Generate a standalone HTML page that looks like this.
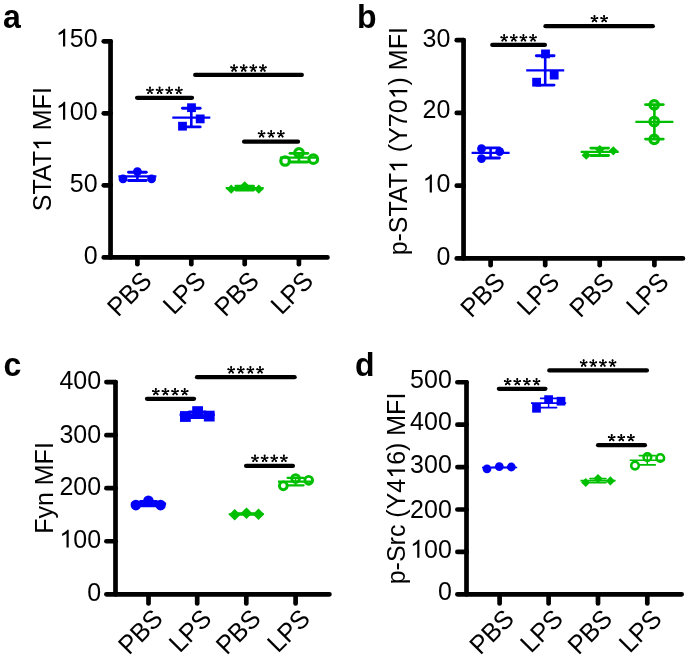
<!DOCTYPE html>
<html><head><meta charset="utf-8"><style>
html,body{margin:0;padding:0;background:#fff;}
svg{display:block;will-change:transform;}
text{font-family:"Liberation Sans",sans-serif;fill:#000;}
</style></head><body>
<svg width="689" height="658" viewBox="0 0 689 658">
<defs><g id="ast"><path d="M0,0 L0,-3.1 M0,0 L2.95,-0.96 M0,0 L-2.95,-0.96 M0,0 L1.82,2.51 M0,0 L-1.82,2.51" stroke="#000" stroke-width="1.45" stroke-linecap="round" fill="none"/><circle cx="0" cy="-3.0" r="1.0"/><circle cx="2.85" cy="-0.93" r="1.0"/><circle cx="-2.85" cy="-0.93" r="1.0"/><circle cx="1.76" cy="2.43" r="1.0"/><circle cx="-1.76" cy="2.43" r="1.0"/></g></defs>
<rect width="689" height="658" fill="#fff"/>
<text transform="translate(3,27.7) scale(1,1.04)" font-size="32" font-weight="bold">a</text>
<g transform="translate(51.1,149.2) rotate(-90) scale(1,1.04)"><text text-anchor="middle" font-size="25.0">STAT&#8199; MFI</text><path transform="translate(-1.869,0) scale(0.012207,-0.012207)" d="M763,0 L583,0 L583,1100 Q465,995 223,912 L223,1078 Q420,1165 560,1300 Q620,1365 646,1409 L763,1409 Z"/></g>
<path d="M110.55,41.3 L110.55,257.4 L327.45,257.4" fill="none" stroke="#000" stroke-width="4.7" stroke-linecap="round" stroke-linejoin="round"/>
<line x1="103.75" y1="257.4" x2="110.55" y2="257.4" stroke="#000" stroke-width="4.7" stroke-linecap="round"/>
<text transform="translate(97.6,263.7) scale(1,1.04)" text-anchor="end" font-size="25.0">0</text>
<line x1="103.75" y1="185.37" x2="110.55" y2="185.37" stroke="#000" stroke-width="4.7" stroke-linecap="round"/>
<text transform="translate(97.6,191.67) scale(1,1.04)" text-anchor="end" font-size="25.0">50</text>
<line x1="103.75" y1="113.33" x2="110.55" y2="113.33" stroke="#000" stroke-width="4.7" stroke-linecap="round"/>
<g transform="translate(97.6,119.63) scale(1,1.04)"><text text-anchor="end" font-size="25.0">&#8199;00</text><path transform="translate(-41.705,0) scale(0.012207,-0.012207)" d="M763,0 L583,0 L583,1100 Q465,995 223,912 L223,1078 Q420,1165 560,1300 Q620,1365 646,1409 L763,1409 Z"/></g>
<line x1="103.75" y1="41.3" x2="110.55" y2="41.3" stroke="#000" stroke-width="4.7" stroke-linecap="round"/>
<g transform="translate(97.6,46.6) scale(1,1.04)"><text text-anchor="end" font-size="25.0">&#8199;50</text><path transform="translate(-41.705,0) scale(0.012207,-0.012207)" d="M763,0 L583,0 L583,1100 Q465,995 223,912 L223,1078 Q420,1165 560,1300 Q620,1365 646,1409 L763,1409 Z"/></g>
<line x1="137.4" y1="257.4" x2="137.4" y2="264.2" stroke="#000" stroke-width="4.7" stroke-linecap="round"/>
<text transform="translate(153.3,282.4) rotate(-45) scale(1,1.04)" text-anchor="end" font-size="25.0">PBS</text>
<line x1="191.3" y1="257.4" x2="191.3" y2="264.2" stroke="#000" stroke-width="4.7" stroke-linecap="round"/>
<text transform="translate(207.2,282.4) rotate(-45) scale(1,1.04)" text-anchor="end" font-size="25.0">LPS</text>
<line x1="244.7" y1="257.4" x2="244.7" y2="264.2" stroke="#000" stroke-width="4.7" stroke-linecap="round"/>
<text transform="translate(260.6,282.4) rotate(-45) scale(1,1.04)" text-anchor="end" font-size="25.0">PBS</text>
<line x1="298.9" y1="257.4" x2="298.9" y2="264.2" stroke="#000" stroke-width="4.7" stroke-linecap="round"/>
<text transform="translate(314.8,282.4) rotate(-45) scale(1,1.04)" text-anchor="end" font-size="25.0">LPS</text>
<line x1="137.4" y1="172.24" x2="137.4" y2="180.56" stroke="#0000F8" stroke-width="2.6"/>
<line x1="128.55" y1="172.24" x2="146.25" y2="172.24" stroke="#0000F8" stroke-width="2.9" stroke-linecap="round"/>
<line x1="128.55" y1="180.56" x2="146.25" y2="180.56" stroke="#0000F8" stroke-width="2.9" stroke-linecap="round"/>
<line x1="118.4" y1="176.4" x2="156.4" y2="176.4" stroke="#0000F8" stroke-width="2.2"/>
<circle cx="123" cy="178.8" r="4.4" fill="#0000F8"/>
<circle cx="137.4" cy="171.6" r="4.4" fill="#0000F8"/>
<circle cx="151.6" cy="178.8" r="4.4" fill="#0000F8"/>
<line x1="191.3" y1="108.28" x2="191.3" y2="126.92" stroke="#0000F8" stroke-width="2.6"/>
<line x1="182.45" y1="108.28" x2="200.15" y2="108.28" stroke="#0000F8" stroke-width="2.9" stroke-linecap="round"/>
<line x1="182.45" y1="126.92" x2="200.15" y2="126.92" stroke="#0000F8" stroke-width="2.9" stroke-linecap="round"/>
<line x1="172.3" y1="117.6" x2="210.3" y2="117.6" stroke="#0000F8" stroke-width="2.2"/>
<rect x="178.1" y="121.8" width="8.8" height="8.8" fill="#0000F8"/>
<rect x="187.1" y="103.3" width="8.8" height="8.8" fill="#0000F8"/>
<rect x="195.8" y="114.5" width="8.8" height="8.8" fill="#0000F8"/>
<line x1="244.7" y1="186.1" x2="244.7" y2="190.03" stroke="#00BF00" stroke-width="2.6"/>
<line x1="235.85" y1="186.1" x2="253.55" y2="186.1" stroke="#00BF00" stroke-width="2.9" stroke-linecap="round"/>
<line x1="235.85" y1="190.03" x2="253.55" y2="190.03" stroke="#00BF00" stroke-width="2.9" stroke-linecap="round"/>
<line x1="225.7" y1="188.07" x2="263.7" y2="188.07" stroke="#00BF00" stroke-width="2.2"/>
<path d="M231.2,184.62 L235.78,189.2 L231.2,193.78 L226.62,189.2 Z" fill="#00BF00"/>
<path d="M244.7,181.22 L249.28,185.8 L244.7,190.38 L240.12,185.8 Z" fill="#00BF00"/>
<path d="M258.8,184.62 L263.38,189.2 L258.8,193.78 L254.22,189.2 Z" fill="#00BF00"/>
<line x1="298.9" y1="153.36" x2="298.9" y2="161.98" stroke="#00BF00" stroke-width="2.6"/>
<line x1="290.05" y1="153.36" x2="307.75" y2="153.36" stroke="#00BF00" stroke-width="2.9" stroke-linecap="round"/>
<line x1="290.05" y1="161.98" x2="307.75" y2="161.98" stroke="#00BF00" stroke-width="2.9" stroke-linecap="round"/>
<line x1="279.9" y1="157.67" x2="317.9" y2="157.67" stroke="#00BF00" stroke-width="2.2"/>
<circle cx="285.1" cy="161" r="4.27" fill="none" stroke="#00BF00" stroke-width="3.2"/>
<circle cx="299" cy="152.8" r="4.27" fill="none" stroke="#00BF00" stroke-width="3.2"/>
<circle cx="313.3" cy="159.2" r="4.27" fill="none" stroke="#00BF00" stroke-width="3.2"/>
<line x1="137.1" y1="97.85" x2="192" y2="97.85" stroke="#000" stroke-width="4.3" stroke-linecap="round"/>
<use href="#ast" x="149.96" y="90.6"/>
<use href="#ast" x="159.59" y="90.6"/>
<use href="#ast" x="169.22" y="90.6"/>
<use href="#ast" x="178.84" y="90.6"/>
<line x1="195.2" y1="74.9" x2="301.8" y2="74.9" stroke="#000" stroke-width="4.3" stroke-linecap="round"/>
<use href="#ast" x="234.06" y="68.2"/>
<use href="#ast" x="243.69" y="68.2"/>
<use href="#ast" x="253.31" y="68.2"/>
<use href="#ast" x="262.94" y="68.2"/>
<line x1="244.1" y1="141.7" x2="298" y2="141.7" stroke="#000" stroke-width="4.3" stroke-linecap="round"/>
<use href="#ast" x="261.57" y="134.1"/>
<use href="#ast" x="271.2" y="134.1"/>
<use href="#ast" x="280.83" y="134.1"/>
<text transform="translate(357,27.5) scale(1,1.04)" font-size="32" font-weight="bold">b</text>
<g transform="translate(407.3,141.25) rotate(-90) scale(1,1.04)"><text text-anchor="middle" font-size="25.0">p-STAT&#8199; (Y70&#8199;) MFI</text><path transform="translate(-31.742,0) scale(0.012207,-0.012207)" d="M763,0 L583,0 L583,1100 Q465,995 223,912 L223,1078 Q420,1165 560,1300 Q620,1365 646,1409 L763,1409 Z"/><path transform="translate(41.911,0) scale(0.012207,-0.012207)" d="M763,0 L583,0 L583,1100 Q465,995 223,912 L223,1078 Q420,1165 560,1300 Q620,1365 646,1409 L763,1409 Z"/></g>
<path d="M463.55,40.15 L463.55,258.4 L682.95,258.4" fill="none" stroke="#000" stroke-width="4.7" stroke-linecap="round" stroke-linejoin="round"/>
<line x1="456.75" y1="258.4" x2="463.55" y2="258.4" stroke="#000" stroke-width="4.7" stroke-linecap="round"/>
<text transform="translate(450.4,265.2) scale(1,1.04)" text-anchor="end" font-size="25.0">0</text>
<line x1="456.75" y1="185.65" x2="463.55" y2="185.65" stroke="#000" stroke-width="4.7" stroke-linecap="round"/>
<g transform="translate(450.4,192.45) scale(1,1.04)"><text text-anchor="end" font-size="25.0">&#8199;0</text><path transform="translate(-27.813,0) scale(0.012207,-0.012207)" d="M763,0 L583,0 L583,1100 Q465,995 223,912 L223,1078 Q420,1165 560,1300 Q620,1365 646,1409 L763,1409 Z"/></g>
<line x1="456.75" y1="112.9" x2="463.55" y2="112.9" stroke="#000" stroke-width="4.7" stroke-linecap="round"/>
<text transform="translate(450.4,118.4) scale(1,1.04)" text-anchor="end" font-size="25.0">20</text>
<line x1="456.75" y1="40.15" x2="463.55" y2="40.15" stroke="#000" stroke-width="4.7" stroke-linecap="round"/>
<text transform="translate(450.4,46.95) scale(1,1.04)" text-anchor="end" font-size="25.0">30</text>
<line x1="490.6" y1="258.4" x2="490.6" y2="265.2" stroke="#000" stroke-width="4.7" stroke-linecap="round"/>
<text transform="translate(506.5,283.4) rotate(-45) scale(1,1.04)" text-anchor="end" font-size="25.0">PBS</text>
<line x1="545.2" y1="258.4" x2="545.2" y2="265.2" stroke="#000" stroke-width="4.7" stroke-linecap="round"/>
<text transform="translate(561.1,283.4) rotate(-45) scale(1,1.04)" text-anchor="end" font-size="25.0">LPS</text>
<line x1="599.7" y1="258.4" x2="599.7" y2="265.2" stroke="#000" stroke-width="4.7" stroke-linecap="round"/>
<text transform="translate(615.6,283.4) rotate(-45) scale(1,1.04)" text-anchor="end" font-size="25.0">PBS</text>
<line x1="654.4" y1="258.4" x2="654.4" y2="265.2" stroke="#000" stroke-width="4.7" stroke-linecap="round"/>
<text transform="translate(670.3,283.4) rotate(-45) scale(1,1.04)" text-anchor="end" font-size="25.0">LPS</text>
<line x1="490.6" y1="147.88" x2="490.6" y2="158.06" stroke="#0000F8" stroke-width="2.6"/>
<line x1="481.75" y1="147.88" x2="499.45" y2="147.88" stroke="#0000F8" stroke-width="2.9" stroke-linecap="round"/>
<line x1="481.75" y1="158.06" x2="499.45" y2="158.06" stroke="#0000F8" stroke-width="2.9" stroke-linecap="round"/>
<line x1="471.6" y1="152.97" x2="509.6" y2="152.97" stroke="#0000F8" stroke-width="2.2"/>
<circle cx="481.5" cy="148.7" r="4.4" fill="#0000F8"/>
<circle cx="481.5" cy="158.6" r="4.4" fill="#0000F8"/>
<circle cx="499.7" cy="151.6" r="4.4" fill="#0000F8"/>
<line x1="545.2" y1="55.68" x2="545.2" y2="85.12" stroke="#0000F8" stroke-width="2.6"/>
<line x1="536.35" y1="55.68" x2="554.05" y2="55.68" stroke="#0000F8" stroke-width="2.9" stroke-linecap="round"/>
<line x1="536.35" y1="85.12" x2="554.05" y2="85.12" stroke="#0000F8" stroke-width="2.9" stroke-linecap="round"/>
<line x1="526.2" y1="70.4" x2="564.2" y2="70.4" stroke="#0000F8" stroke-width="2.2"/>
<rect x="532.2" y="77.8" width="8.8" height="8.8" fill="#0000F8"/>
<rect x="541.1" y="49.5" width="8.8" height="8.8" fill="#0000F8"/>
<rect x="549.8" y="70.7" width="8.8" height="8.8" fill="#0000F8"/>
<line x1="599.7" y1="148.1" x2="599.7" y2="155.5" stroke="#00BF00" stroke-width="2.6"/>
<line x1="590.85" y1="148.1" x2="608.55" y2="148.1" stroke="#00BF00" stroke-width="2.9" stroke-linecap="round"/>
<line x1="590.85" y1="155.5" x2="608.55" y2="155.5" stroke="#00BF00" stroke-width="2.9" stroke-linecap="round"/>
<line x1="580.7" y1="151.8" x2="618.7" y2="151.8" stroke="#00BF00" stroke-width="2.2"/>
<path d="M586.2,150.62 L590.78,155.2 L586.2,159.78 L581.62,155.2 Z" fill="#00BF00"/>
<path d="M599.8,144.92 L604.38,149.5 L599.8,154.08 L595.22,149.5 Z" fill="#00BF00"/>
<path d="M613.3,146.22 L617.88,150.8 L613.3,155.38 L608.72,150.8 Z" fill="#00BF00"/>
<line x1="654.4" y1="104.61" x2="654.4" y2="139.12" stroke="#00BF00" stroke-width="2.6"/>
<line x1="645.55" y1="104.61" x2="663.25" y2="104.61" stroke="#00BF00" stroke-width="2.9" stroke-linecap="round"/>
<line x1="645.55" y1="139.12" x2="663.25" y2="139.12" stroke="#00BF00" stroke-width="2.9" stroke-linecap="round"/>
<line x1="635.4" y1="121.87" x2="673.4" y2="121.87" stroke="#00BF00" stroke-width="2.2"/>
<circle cx="654.2" cy="104.8" r="4.27" fill="none" stroke="#00BF00" stroke-width="3.2"/>
<circle cx="654.2" cy="121.5" r="4.27" fill="none" stroke="#00BF00" stroke-width="3.2"/>
<circle cx="654.2" cy="139.3" r="4.27" fill="none" stroke="#00BF00" stroke-width="3.2"/>
<line x1="492.3" y1="44.9" x2="544.9" y2="44.9" stroke="#000" stroke-width="4.3" stroke-linecap="round"/>
<use href="#ast" x="504.16" y="38.1"/>
<use href="#ast" x="513.78" y="38.1"/>
<use href="#ast" x="523.42" y="38.1"/>
<use href="#ast" x="533.05" y="38.1"/>
<line x1="545.5" y1="26.15" x2="652.8" y2="26.15" stroke="#000" stroke-width="4.3" stroke-linecap="round"/>
<use href="#ast" x="594.48" y="18.9"/>
<use href="#ast" x="604.12" y="18.9"/>
<text transform="translate(3.5,375.8) scale(1,1.04)" font-size="32" font-weight="bold">c</text>
<text transform="translate(53.3,488) rotate(-90) scale(1,1.04)" text-anchor="middle" font-size="25.0">Fyn MFI</text>
<path d="M115.5,382.1 L115.5,594.3 L329.45,594.3" fill="none" stroke="#000" stroke-width="4.7" stroke-linecap="round" stroke-linejoin="round"/>
<line x1="106.4" y1="594.3" x2="115.5" y2="594.3" stroke="#000" stroke-width="4.7" stroke-linecap="round"/>
<text transform="translate(101.1,600.6) scale(1,1.04)" text-anchor="end" font-size="25.0">0</text>
<line x1="106.4" y1="541.25" x2="115.5" y2="541.25" stroke="#000" stroke-width="4.7" stroke-linecap="round"/>
<g transform="translate(101.1,547.55) scale(1,1.04)"><text text-anchor="end" font-size="25.0">&#8199;00</text><path transform="translate(-41.705,0) scale(0.012207,-0.012207)" d="M763,0 L583,0 L583,1100 Q465,995 223,912 L223,1078 Q420,1165 560,1300 Q620,1365 646,1409 L763,1409 Z"/></g>
<line x1="106.4" y1="488.2" x2="115.5" y2="488.2" stroke="#000" stroke-width="4.7" stroke-linecap="round"/>
<text transform="translate(101.1,494.5) scale(1,1.04)" text-anchor="end" font-size="25.0">200</text>
<line x1="106.4" y1="435.15" x2="115.5" y2="435.15" stroke="#000" stroke-width="4.7" stroke-linecap="round"/>
<text transform="translate(101.1,442.75) scale(1,1.04)" text-anchor="end" font-size="25.0">300</text>
<line x1="106.4" y1="382.1" x2="115.5" y2="382.1" stroke="#000" stroke-width="4.7" stroke-linecap="round"/>
<text transform="translate(101.1,389.1) scale(1,1.04)" text-anchor="end" font-size="25.0">400</text>
<line x1="148.5" y1="594.3" x2="148.5" y2="603.4" stroke="#000" stroke-width="4.7" stroke-linecap="round"/>
<text transform="translate(164.4,620.3) rotate(-45) scale(1,1.04)" text-anchor="end" font-size="25.0">PBS</text>
<line x1="197.2" y1="594.3" x2="197.2" y2="603.4" stroke="#000" stroke-width="4.7" stroke-linecap="round"/>
<text transform="translate(213.1,620.3) rotate(-45) scale(1,1.04)" text-anchor="end" font-size="25.0">LPS</text>
<line x1="246.3" y1="594.3" x2="246.3" y2="603.4" stroke="#000" stroke-width="4.7" stroke-linecap="round"/>
<text transform="translate(262.2,620.3) rotate(-45) scale(1,1.04)" text-anchor="end" font-size="25.0">PBS</text>
<line x1="295.6" y1="594.3" x2="295.6" y2="603.4" stroke="#000" stroke-width="4.7" stroke-linecap="round"/>
<text transform="translate(311.5,620.3) rotate(-45) scale(1,1.04)" text-anchor="end" font-size="25.0">LPS</text>
<line x1="148.5" y1="501.48" x2="148.5" y2="505.88" stroke="#0000F8" stroke-width="1.6"/>
<line x1="140.5" y1="501.48" x2="156.5" y2="501.48" stroke="#0000F8" stroke-width="2.9" stroke-linecap="round"/>
<line x1="140.5" y1="505.88" x2="156.5" y2="505.88" stroke="#0000F8" stroke-width="2.9" stroke-linecap="round"/>
<line x1="130.9" y1="503.68" x2="166.1" y2="503.68" stroke="#0000F8" stroke-width="2.6"/>
<circle cx="135.9" cy="505.1" r="5.3" fill="#0000F8"/>
<circle cx="148.4" cy="500.85" r="5.3" fill="#0000F8"/>
<circle cx="160.6" cy="505.1" r="5.3" fill="#0000F8"/>
<line x1="197.2" y1="412.01" x2="197.2" y2="417.45" stroke="#0000F8" stroke-width="1.6"/>
<line x1="189.2" y1="412.01" x2="205.2" y2="412.01" stroke="#0000F8" stroke-width="2.9" stroke-linecap="round"/>
<line x1="189.2" y1="417.45" x2="205.2" y2="417.45" stroke="#0000F8" stroke-width="2.9" stroke-linecap="round"/>
<line x1="179.6" y1="414.73" x2="214.8" y2="414.73" stroke="#0000F8" stroke-width="2.6"/>
<rect x="180" y="411.1" width="10.8" height="10.8" fill="#0000F8"/>
<rect x="192.2" y="406.2" width="10.8" height="10.8" fill="#0000F8"/>
<rect x="203.85" y="410.7" width="10.8" height="10.8" fill="#0000F8"/>
<line x1="246.3" y1="513.27" x2="246.3" y2="514.9" stroke="#00BF00" stroke-width="1.6"/>
<line x1="238.3" y1="513.27" x2="254.3" y2="513.27" stroke="#00BF00" stroke-width="1.8" stroke-linecap="round"/>
<line x1="238.3" y1="514.9" x2="254.3" y2="514.9" stroke="#00BF00" stroke-width="1.8" stroke-linecap="round"/>
<line x1="228.7" y1="514.08" x2="263.9" y2="514.08" stroke="#00BF00" stroke-width="1.9"/>
<path d="M234.7,508.98 L240.52,514.8 L234.7,520.62 L228.88,514.8 Z" fill="#00BF00"/>
<path d="M246.5,507.38 L252.32,513.2 L246.5,519.02 L240.68,513.2 Z" fill="#00BF00"/>
<path d="M258.5,508.43 L264.32,514.25 L258.5,520.07 L252.68,514.25 Z" fill="#00BF00"/>
<line x1="295.6" y1="477.8" x2="295.6" y2="485.33" stroke="#00BF00" stroke-width="1.6"/>
<line x1="287.6" y1="477.8" x2="303.6" y2="477.8" stroke="#00BF00" stroke-width="2.2" stroke-linecap="round"/>
<line x1="287.6" y1="485.33" x2="303.6" y2="485.33" stroke="#00BF00" stroke-width="2.2" stroke-linecap="round"/>
<line x1="278" y1="481.57" x2="313.2" y2="481.57" stroke="#00BF00" stroke-width="2.2"/>
<circle cx="283.3" cy="485.8" r="3.88" fill="none" stroke="#00BF00" stroke-width="2.9"/>
<circle cx="295.6" cy="478.6" r="3.88" fill="none" stroke="#00BF00" stroke-width="2.9"/>
<circle cx="308.7" cy="480.3" r="3.88" fill="none" stroke="#00BF00" stroke-width="2.9"/>
<line x1="147" y1="398.8" x2="194" y2="398.8" stroke="#000" stroke-width="4.3" stroke-linecap="round"/>
<use href="#ast" x="155.81" y="391.9"/>
<use href="#ast" x="165.44" y="391.9"/>
<use href="#ast" x="175.06" y="391.9"/>
<use href="#ast" x="184.69" y="391.9"/>
<line x1="197" y1="377.2" x2="294.6" y2="377.2" stroke="#000" stroke-width="4.3" stroke-linecap="round"/>
<use href="#ast" x="231.16" y="370.1"/>
<use href="#ast" x="240.78" y="370.1"/>
<use href="#ast" x="250.41" y="370.1"/>
<use href="#ast" x="260.05" y="370.1"/>
<line x1="246.1" y1="465.9" x2="292.9" y2="465.9" stroke="#000" stroke-width="4.3" stroke-linecap="round"/>
<use href="#ast" x="255" y="458.6"/>
<use href="#ast" x="264.63" y="458.6"/>
<use href="#ast" x="274.26" y="458.6"/>
<use href="#ast" x="283.89" y="458.6"/>
<text transform="translate(355,375.5) scale(1,1.04)" font-size="32" font-weight="bold">d</text>
<g transform="translate(405,488.5) rotate(-90) scale(1,1.04)"><text text-anchor="middle" font-size="25.0">p-Src (Y4&#8199;6) MFI</text><path transform="translate(9.718,0) scale(0.012207,-0.012207)" d="M763,0 L583,0 L583,1100 Q465,995 223,912 L223,1078 Q420,1165 560,1300 Q620,1365 646,1409 L763,1409 Z"/></g>
<path d="M466.5,382.25 L466.5,594.3 L681.65,594.3" fill="none" stroke="#000" stroke-width="4.7" stroke-linecap="round" stroke-linejoin="round"/>
<line x1="457.4" y1="594.3" x2="466.5" y2="594.3" stroke="#000" stroke-width="4.7" stroke-linecap="round"/>
<text transform="translate(451.8,600.1) scale(1,1.04)" text-anchor="end" font-size="25.0">0</text>
<line x1="457.4" y1="551.89" x2="466.5" y2="551.89" stroke="#000" stroke-width="4.7" stroke-linecap="round"/>
<g transform="translate(451.8,557.69) scale(1,1.04)"><text text-anchor="end" font-size="25.0">&#8199;00</text><path transform="translate(-41.705,0) scale(0.012207,-0.012207)" d="M763,0 L583,0 L583,1100 Q465,995 223,912 L223,1078 Q420,1165 560,1300 Q620,1365 646,1409 L763,1409 Z"/></g>
<line x1="457.4" y1="509.48" x2="466.5" y2="509.48" stroke="#000" stroke-width="4.7" stroke-linecap="round"/>
<text transform="translate(451.8,517.98) scale(1,1.04)" text-anchor="end" font-size="25.0">200</text>
<line x1="457.4" y1="467.07" x2="466.5" y2="467.07" stroke="#000" stroke-width="4.7" stroke-linecap="round"/>
<text transform="translate(451.8,472.87) scale(1,1.04)" text-anchor="end" font-size="25.0">300</text>
<line x1="457.4" y1="424.66" x2="466.5" y2="424.66" stroke="#000" stroke-width="4.7" stroke-linecap="round"/>
<text transform="translate(451.8,430.46) scale(1,1.04)" text-anchor="end" font-size="25.0">400</text>
<line x1="457.4" y1="382.25" x2="466.5" y2="382.25" stroke="#000" stroke-width="4.7" stroke-linecap="round"/>
<text transform="translate(451.8,388.05) scale(1,1.04)" text-anchor="end" font-size="25.0">500</text>
<line x1="499.6" y1="594.3" x2="499.6" y2="603.4" stroke="#000" stroke-width="4.7" stroke-linecap="round"/>
<text transform="translate(515.5,620.5) rotate(-45) scale(1,1.04)" text-anchor="end" font-size="25.0">PBS</text>
<line x1="548.6" y1="594.3" x2="548.6" y2="603.4" stroke="#000" stroke-width="4.7" stroke-linecap="round"/>
<text transform="translate(564.5,620.5) rotate(-45) scale(1,1.04)" text-anchor="end" font-size="25.0">LPS</text>
<line x1="598" y1="594.3" x2="598" y2="603.4" stroke="#000" stroke-width="4.7" stroke-linecap="round"/>
<text transform="translate(613.9,620.5) rotate(-45) scale(1,1.04)" text-anchor="end" font-size="25.0">PBS</text>
<line x1="647.3" y1="594.3" x2="647.3" y2="603.4" stroke="#000" stroke-width="4.7" stroke-linecap="round"/>
<text transform="translate(663.2,620.5) rotate(-45) scale(1,1.04)" text-anchor="end" font-size="25.0">LPS</text>
<line x1="499.6" y1="467.5" x2="499.6" y2="467.5" stroke="#0000F8" stroke-width="1.5"/>
<line x1="491.6" y1="467.5" x2="507.6" y2="467.5" stroke="#0000F8" stroke-width="1.6" stroke-linecap="round"/>
<line x1="491.6" y1="467.5" x2="507.6" y2="467.5" stroke="#0000F8" stroke-width="1.6" stroke-linecap="round"/>
<line x1="482" y1="467.5" x2="517.2" y2="467.5" stroke="#0000F8" stroke-width="1.7"/>
<circle cx="487" cy="468.8" r="4.4" fill="#0000F8"/>
<circle cx="499.3" cy="466.6" r="4.4" fill="#0000F8"/>
<circle cx="511.3" cy="467" r="4.4" fill="#0000F8"/>
<line x1="548.6" y1="398.4" x2="548.6" y2="407.66" stroke="#0000F8" stroke-width="1.5"/>
<line x1="540.6" y1="398.4" x2="556.6" y2="398.4" stroke="#0000F8" stroke-width="1.6" stroke-linecap="round"/>
<line x1="540.6" y1="407.66" x2="556.6" y2="407.66" stroke="#0000F8" stroke-width="1.6" stroke-linecap="round"/>
<line x1="531" y1="403.03" x2="566.2" y2="403.03" stroke="#0000F8" stroke-width="1.7"/>
<rect x="532.15" y="403.95" width="8.7" height="8.7" fill="#0000F8"/>
<rect x="544.25" y="395.25" width="8.7" height="8.7" fill="#0000F8"/>
<rect x="556.65" y="396.85" width="8.7" height="8.7" fill="#0000F8"/>
<line x1="598" y1="478.62" x2="598" y2="482.65" stroke="#00BF00" stroke-width="1.5"/>
<line x1="590" y1="478.62" x2="606" y2="478.62" stroke="#00BF00" stroke-width="1.6" stroke-linecap="round"/>
<line x1="590" y1="482.65" x2="606" y2="482.65" stroke="#00BF00" stroke-width="1.6" stroke-linecap="round"/>
<line x1="580.4" y1="480.63" x2="615.6" y2="480.63" stroke="#00BF00" stroke-width="1.7"/>
<path d="M585.7,477.92 L590.28,482.5 L585.7,487.08 L581.12,482.5 Z" fill="#00BF00"/>
<path d="M598,473.92 L602.58,478.5 L598,483.08 L593.42,478.5 Z" fill="#00BF00"/>
<path d="M610.4,476.32 L614.98,480.9 L610.4,485.48 L605.82,480.9 Z" fill="#00BF00"/>
<line x1="647.3" y1="455.63" x2="647.3" y2="464.9" stroke="#00BF00" stroke-width="1.5"/>
<line x1="639.3" y1="455.63" x2="655.3" y2="455.63" stroke="#00BF00" stroke-width="1.6" stroke-linecap="round"/>
<line x1="639.3" y1="464.9" x2="655.3" y2="464.9" stroke="#00BF00" stroke-width="1.6" stroke-linecap="round"/>
<line x1="629.7" y1="460.27" x2="664.9" y2="460.27" stroke="#00BF00" stroke-width="1.7"/>
<circle cx="635" cy="465.6" r="3.8" fill="none" stroke="#00BF00" stroke-width="2.6"/>
<circle cx="647.4" cy="457.2" r="3.8" fill="none" stroke="#00BF00" stroke-width="2.6"/>
<circle cx="660.3" cy="458" r="3.8" fill="none" stroke="#00BF00" stroke-width="2.6"/>
<line x1="498.9" y1="388.8" x2="545.4" y2="388.8" stroke="#000" stroke-width="4.3" stroke-linecap="round"/>
<use href="#ast" x="507.66" y="381.9"/>
<use href="#ast" x="517.28" y="381.9"/>
<use href="#ast" x="526.92" y="381.9"/>
<use href="#ast" x="536.55" y="381.9"/>
<line x1="549.3" y1="370.4" x2="646.9" y2="370.4" stroke="#000" stroke-width="4.3" stroke-linecap="round"/>
<use href="#ast" x="583.65" y="363.3"/>
<use href="#ast" x="593.28" y="363.3"/>
<use href="#ast" x="602.92" y="363.3"/>
<use href="#ast" x="612.55" y="363.3"/>
<line x1="598.1" y1="445.2" x2="644.9" y2="445.2" stroke="#000" stroke-width="4.3" stroke-linecap="round"/>
<use href="#ast" x="611.67" y="437.9"/>
<use href="#ast" x="621.3" y="437.9"/>
<use href="#ast" x="630.93" y="437.9"/>
</svg>
</body></html>
